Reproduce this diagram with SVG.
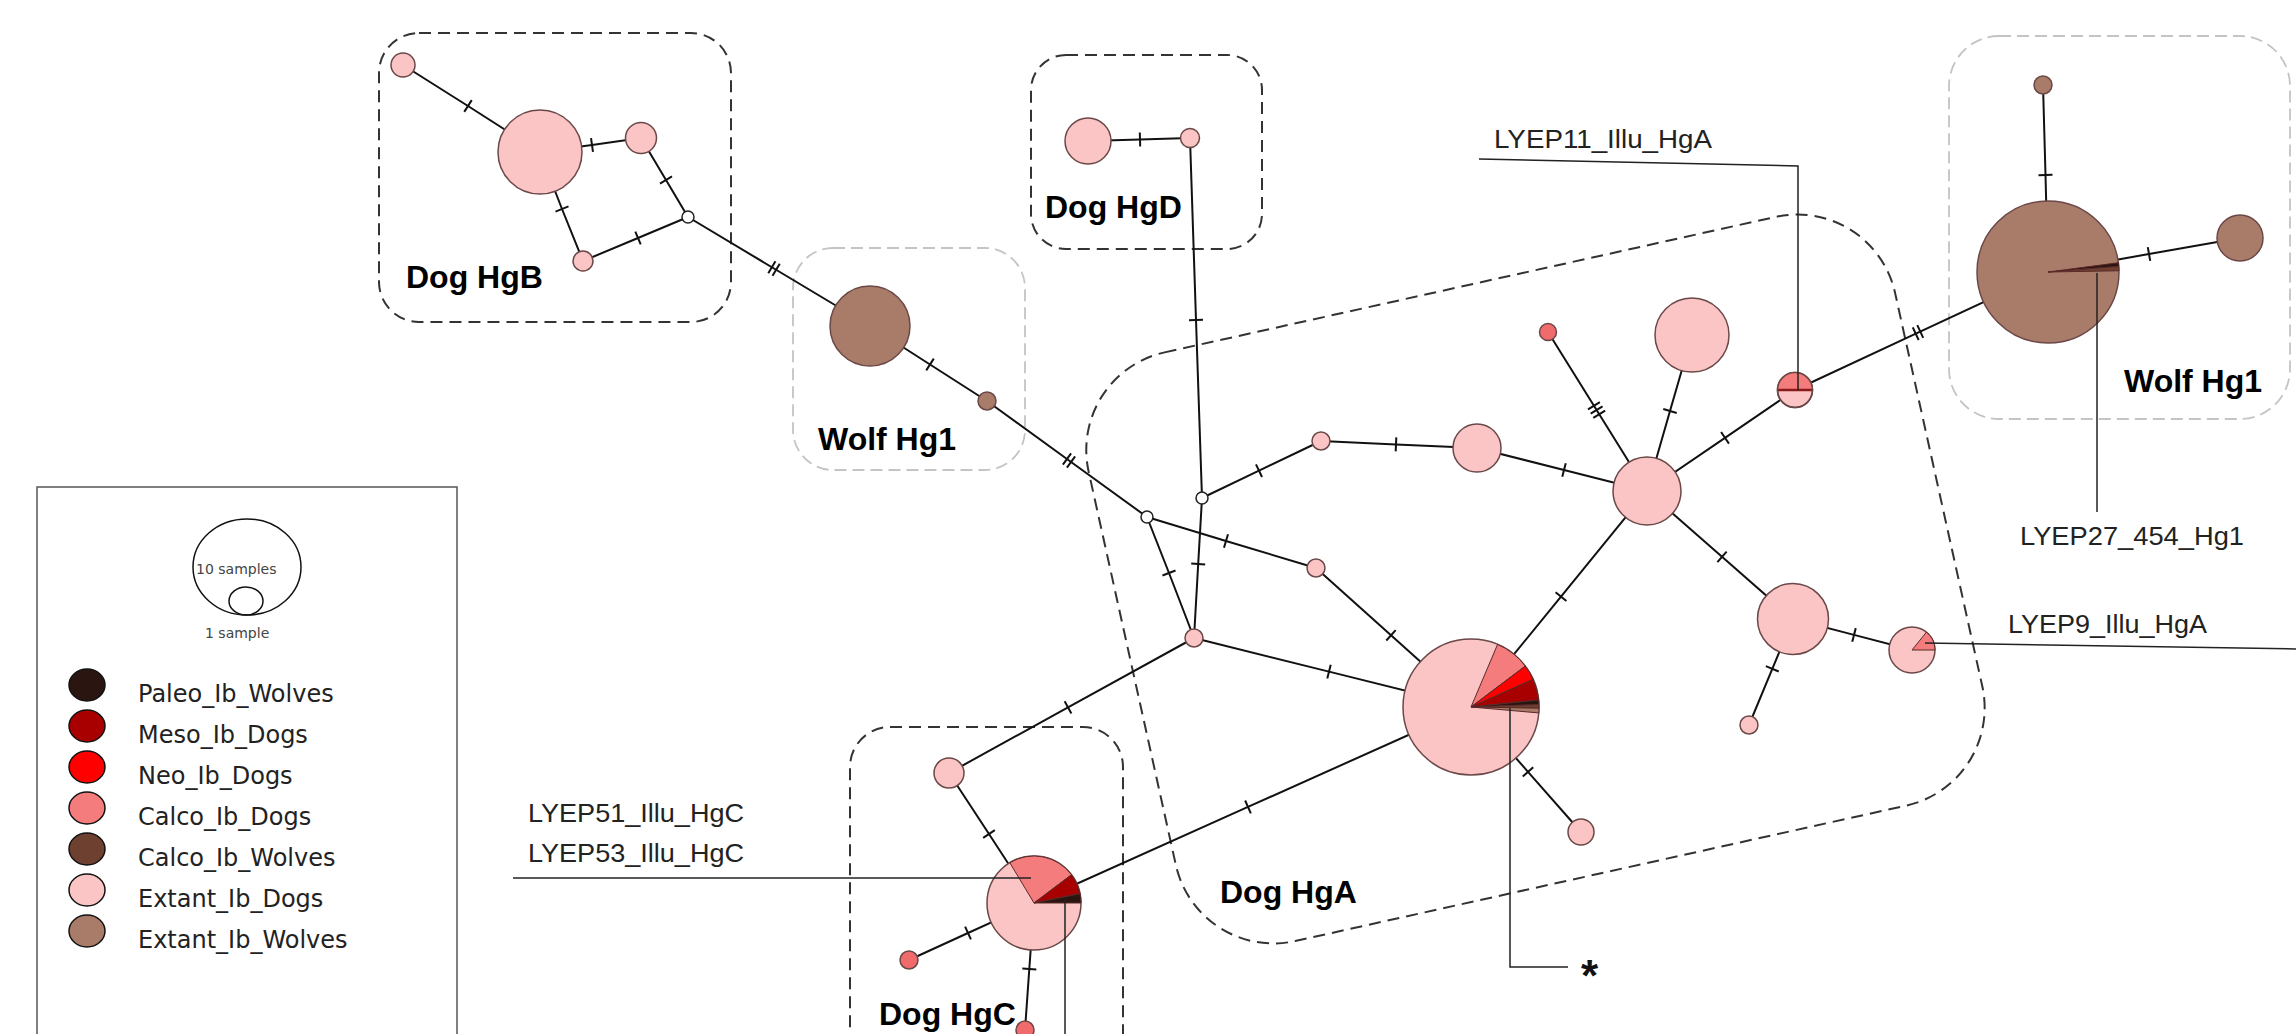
<svg xmlns="http://www.w3.org/2000/svg" width="2296" height="1034" viewBox="0 0 2296 1034">
<style>
.edge{fill:none;stroke:#111;stroke-width:2}
.m1{marker-mid:url(#t1)}.m2{marker-mid:url(#t2)}.m3{marker-mid:url(#t3)}
.nd{stroke:#6b4848;stroke-width:1.5}
.pink{fill:#fbc5c5}.brown{fill:#a87c69}.coral{fill:#f06b6b}.wht{fill:#fff;stroke:#222;stroke-width:1.5}
.sl{stroke:#5a2a2a;stroke-width:1}
.calco{fill:#f47c7c}.neo{fill:#ff0000}.meso{fill:#a80000}.paleo{fill:#2b1510}.cwolf{fill:#6e4030}.ewolf{fill:#a87c69}.edog{fill:#fbc5c5}
.lead{stroke:#222;stroke-width:1.5;fill:none}
.lbl{font-family:"Liberation Sans",Arial,sans-serif;font-size:25px;fill:#222}
.grp{font-family:"Liberation Sans",Arial,sans-serif;font-weight:bold;font-size:32px;fill:#000}
.box{fill:none;stroke:#333;stroke-width:2;stroke-dasharray:12 7}
.wbox{fill:none;stroke:#c4c4c4;stroke-width:1.8;stroke-dasharray:12 6}
.leg{font-family:"DejaVu Sans",Verdana,sans-serif;font-size:24px;fill:#222}
.legs{font-family:"DejaVu Sans",Verdana,sans-serif;font-size:14px;fill:#444}
.lc{stroke:#111;stroke-width:1.5}
</style>
<defs>
<marker id="t1" viewBox="-10 -10 20 20" refX="0" refY="0" markerWidth="20" markerHeight="20" markerUnits="userSpaceOnUse" orient="auto"><line x1="0" y1="-7" x2="0" y2="7" stroke="#111" stroke-width="2"/></marker>
<marker id="t2" viewBox="-10 -10 20 20" refX="0" refY="0" markerWidth="20" markerHeight="20" markerUnits="userSpaceOnUse" orient="auto"><path d="M-2.5,-7V7M2.5,-7V7" stroke="#111" stroke-width="2"/></marker>
<marker id="t3" viewBox="-10 -10 20 20" refX="0" refY="0" markerWidth="20" markerHeight="20" markerUnits="userSpaceOnUse" orient="auto"><path d="M-5,-7V7M0,-7V7M5,-7V7" stroke="#111" stroke-width="2"/></marker>
</defs>
<rect width="2296" height="1034" fill="#fff"/>

<g id="groups">
<rect class="box" x="379" y="33" width="352" height="289" rx="40"/>
<rect class="box" x="1031" y="55" width="231" height="194" rx="35"/>
<rect class="wbox" x="793" y="248" width="232" height="222" rx="40"/>
<rect class="wbox" x="1949" y="36" width="341" height="383" rx="50"/>
<rect class="box" x="850" y="727" width="273" height="360" rx="40"/>
<rect class="box" x="0" y="0" width="826" height="603" rx="100" transform="translate(1067,374) rotate(-12.5)"/>
<text class="grp" x="406" y="288">Dog HgB</text>
<text class="grp" x="818" y="450">Wolf Hg1</text>
<text class="grp" x="1045" y="218">Dog HgD</text>
<text class="grp" x="2124" y="392">Wolf Hg1</text>
<text class="grp" x="1220" y="903">Dog HgA</text>
<text class="grp" x="879" y="1025">Dog HgC</text>
</g>

<g id="connectors">
<polyline class="edge m1" points="403,65 468,106 540,152"/>
<polyline class="edge m1" points="540,152 592,145 641,138"/>
<polyline class="edge m1" points="540,152 562,209 583,261"/>
<polyline class="edge m1" points="641,138 666,180 688,217"/>
<polyline class="edge m1" points="583,261 638,238 688,217"/>
<polyline class="edge m2" points="688,217 774,268.5 870,326"/>
<polyline class="edge m1" points="870,326 930,364.5 987,401"/>
<polyline class="edge m2" points="987,401 1069,460.5 1147,517"/>
<polyline class="edge m1" points="1147,517 1226,541 1316,568"/>
<polyline class="edge m1" points="1147,517 1169,573 1194,638"/>
<polyline class="edge m1" points="1202,498 1196,320 1190,138"/>
<polyline class="edge m1" points="1202,498 1259,470.7 1321,441"/>
<polyline class="edge m1" points="1202,498 1198.2,564 1194,638"/>
<polyline class="edge m1" points="1088,141 1140,139.5 1190,138"/>
<polyline class="edge m1" points="1321,441 1396,444.4 1477,448"/>
<polyline class="edge m1" points="1477,448 1564,470 1647,491"/>
<polyline class="edge m1" points="1647,491 1670,411 1692,335"/>
<polyline class="edge m3" points="1647,491 1596.6,410 1548,332"/>
<polyline class="edge m1" points="1647,491 1725,437.8 1795,390"/>
<polyline class="edge m2" points="1795,390 1918,332.6 2048,272"/>
<polyline class="edge m1" points="2048,272 2045.5,175 2043,85"/>
<polyline class="edge m1" points="2048,272 2149,254 2240,238"/>
<polyline class="edge m1" points="1647,491 1561,596.6 1471,707"/>
<polyline class="edge m1" points="1647,491 1722,556.8 1793,619"/>
<polyline class="edge m1" points="1793,619 1854,634.9 1912,650"/>
<polyline class="edge m1" points="1793,619 1772.3,668.8 1749,725"/>
<polyline class="edge m1" points="1316,568 1391,635.3 1471,707"/>
<polyline class="edge m1" points="1194,638 1329,671.6 1471,707"/>
<polyline class="edge m1" points="1194,638 1068,707.4 949,773"/>
<polyline class="edge m1" points="1471,707 1248,806.9 1034,903"/>
<polyline class="edge m1" points="1471,707 1528,771.8 1581,832"/>
<polyline class="edge m1" points="949,773 989,834 1034,903"/>
<polyline class="edge m1" points="1034,903 968,933 909,960"/>
<polyline class="edge m1" points="1034,903 1029.3,969 1025,1030"/>
</g>

<g id="node-hgb-1"><circle class="nd pink" cx="403" cy="65" r="12"/></g>
<g id="node-hgb-2"><circle class="nd pink" cx="540" cy="152" r="42"/></g>
<g id="node-hgb-3"><circle class="nd pink" cx="641" cy="138" r="15.5"/></g>
<g id="node-hgb-4"><circle class="nd pink" cx="583" cy="261" r="10"/></g>
<g id="median-1"><circle class="wht" cx="688" cy="217" r="6"/></g>
<g id="node-wolf-1"><circle class="nd brown" cx="870" cy="326" r="40"/></g>
<g id="node-wolf-2"><circle class="nd brown" cx="987" cy="401" r="9"/></g>
<g id="median-a"><circle class="wht" cx="1147" cy="517" r="6"/></g>
<g id="median-b"><circle class="wht" cx="1202" cy="498" r="6"/></g>
<g id="node-hgd-1"><circle class="nd pink" cx="1088" cy="141" r="23"/></g>
<g id="node-hgd-2"><circle class="nd pink" cx="1190" cy="138" r="9.5"/></g>
<g id="node-p1"><circle class="nd pink" cx="1321" cy="441" r="9"/></g>
<g id="node-p2"><circle class="nd pink" cx="1477" cy="448" r="24"/></g>
<g id="node-hub"><circle class="nd pink" cx="1647" cy="491" r="34"/></g>
<g id="node-p3"><circle class="nd pink" cx="1692" cy="335" r="37"/></g>
<g id="node-r1"><circle class="nd coral" cx="1548" cy="332" r="8.5"/></g>
<g id="node-lyep11">
<circle class="nd pink" cx="1795" cy="390" r="17.5"/>
<path class="calco" d="M1777.5,390 A17.5,17.5 0 0,1 1812.5,390 Z"/>
<line x1="1777.5" y1="390" x2="1812.5" y2="390" stroke="#8b1a1a" stroke-width="2.5"/>
<circle cx="1795" cy="390" r="17.5" fill="none" stroke="#6b4848" stroke-width="1.5"/>
</g>
<g id="node-wolf-big">
<circle class="nd brown" cx="2048" cy="272" r="71"/>
<path class="paleo sl" d="M2048,272 L2118.39,262.73 A71,71 0 0,1 2118.78,266.43 Z"/>
<path class="cwolf sl" d="M2048,272 L2118.78,266.43 A71,71 0 0,1 2118.99,270.76 Z"/>
</g>
<g id="node-wolf-top"><circle class="nd brown" cx="2043" cy="85" r="9"/></g>
<g id="node-wolf-right"><circle class="nd brown" cx="2240" cy="238" r="23"/></g>
<g id="node-p4"><circle class="nd pink" cx="1316" cy="568" r="9"/></g>
<g id="node-c"><circle class="nd pink" cx="1194" cy="638" r="9"/></g>
<g id="node-hga-pie">
<circle class="nd edog" cx="1471" cy="707" r="68"/>
<path class="calco sl" d="M1471,707 L1497.57,644.41 A68,68 0 0,1 1525.31,666.08 Z"/>
<path class="neo sl" d="M1471,707 L1525.31,666.08 A68,68 0 0,1 1533.12,679.34 Z"/>
<path class="meso sl" d="M1471,707 L1533.12,679.34 A68,68 0 0,1 1538.63,699.89 Z"/>
<path class="paleo sl" d="M1471,707 L1538.63,699.89 A68,68 0 0,1 1538.96,704.63 Z"/>
<path class="cwolf sl" d="M1471,707 L1538.96,704.63 A68,68 0 0,1 1538.99,708.19 Z"/>
<path class="ewolf sl" d="M1471,707 L1538.99,708.19 A68,68 0 0,1 1538.74,712.93 Z"/>
</g>
<g id="node-p5"><circle class="nd pink" cx="1793" cy="619" r="35.5"/></g>
<g id="node-lyep9">
<circle class="nd pink" cx="1912" cy="650" r="23"/>
<path class="calco sl" d="M1912,650 L1926.47,632.13 A23,23 0 0,1 1935,650 Z"/>
</g>
<g id="node-p6"><circle class="nd pink" cx="1749" cy="725" r="9"/></g>
<g id="node-p7"><circle class="nd pink" cx="1581" cy="832" r="13"/></g>
<g id="node-hgc-1"><circle class="nd pink" cx="949" cy="773" r="15"/></g>
<g id="node-hgc-pie">
<circle class="nd edog" cx="1034" cy="903" r="47"/>
<path class="calco sl" d="M1034,903 L1009.79,862.71 A47,47 0 0,1 1071.53,874.72 Z"/>
<path class="meso sl" d="M1034,903 L1071.53,874.72 A47,47 0 0,1 1080.05,893.63 Z"/>
<path class="paleo sl" d="M1034,903 L1080.05,893.63 A47,47 0 0,1 1081,903 Z"/>
</g>
<g id="node-hgc-2"><circle class="nd coral" cx="909" cy="960" r="9"/></g>
<g id="node-hgc-3"><circle class="nd coral" cx="1025" cy="1030" r="9"/></g>

<g id="leaders">
<polyline class="lead" points="1479,159 1798,166 1798,390"/>
<text class="lbl" x="1494" y="148" textLength="218" lengthAdjust="spacingAndGlyphs">LYEP11_Illu_HgA</text>
<line class="lead" x1="2097" y1="273" x2="2097" y2="512"/>
<text class="lbl" x="2020" y="545" textLength="224" lengthAdjust="spacingAndGlyphs">LYEP27_454_Hg1</text>
<line class="lead" x1="1925" y1="643" x2="2296" y2="649"/>
<text class="lbl" x="2008" y="633" textLength="199" lengthAdjust="spacingAndGlyphs">LYEP9_Illu_HgA</text>
<line class="lead" x1="513" y1="878" x2="1031" y2="878"/>
<text class="lbl" x="528" y="822" textLength="216" lengthAdjust="spacingAndGlyphs">LYEP51_Illu_HgC</text>
<text class="lbl" x="528" y="862" textLength="216" lengthAdjust="spacingAndGlyphs">LYEP53_Illu_HgC</text>
<line class="lead" x1="1065" y1="899" x2="1065" y2="1034"/>
<polyline class="lead" points="1510,708 1510,967 1568,967"/>
<text x="1581" y="991" font-family="Liberation Sans,Arial,sans-serif" font-weight="bold" font-size="44" fill="#111">*</text>
</g>

<g id="legend">
<rect x="37" y="487" width="420" height="600" fill="#fff" stroke="#555" stroke-width="1.5"/>
<ellipse cx="247" cy="567" rx="54" ry="48" fill="none" stroke="#111" stroke-width="1.5"/>
<ellipse cx="246" cy="601" rx="17" ry="14" fill="none" stroke="#111" stroke-width="1.5"/>
<text class="legs" x="196" y="574">10 samples</text>
<text class="legs" x="205" y="638">1 sample</text>
<ellipse class="lc paleo" cx="87" cy="685" rx="18" ry="16"/>
<ellipse class="lc meso" cx="87" cy="726" rx="18" ry="16"/>
<ellipse class="lc neo" cx="87" cy="767" rx="18" ry="16"/>
<ellipse class="lc calco" cx="87" cy="808" rx="18" ry="16"/>
<ellipse class="lc cwolf" cx="87" cy="849" rx="18" ry="16"/>
<ellipse class="lc edog" cx="87" cy="890" rx="18" ry="16"/>
<ellipse class="lc ewolf" cx="87" cy="931" rx="18" ry="16"/>
<text class="leg" x="138" y="702">Paleo_Ib_Wolves</text>
<text class="leg" x="138" y="743">Meso_Ib_Dogs</text>
<text class="leg" x="138" y="784">Neo_Ib_Dogs</text>
<text class="leg" x="138" y="825">Calco_Ib_Dogs</text>
<text class="leg" x="138" y="866">Calco_Ib_Wolves</text>
<text class="leg" x="138" y="907">Extant_Ib_Dogs</text>
<text class="leg" x="138" y="948">Extant_Ib_Wolves</text>
</g>
</svg>
